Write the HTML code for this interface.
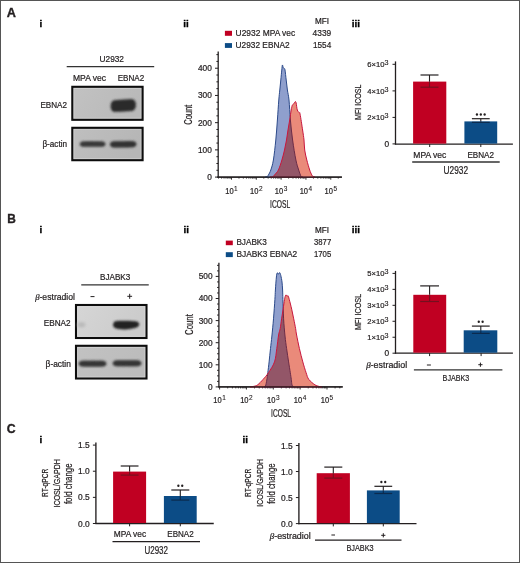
<!DOCTYPE html>
<html><head><meta charset="utf-8"><style>
html,body{margin:0;padding:0;background:#fff;}
svg{display:block;font-family:"Liberation Sans",sans-serif;will-change:transform;}
</style></head><body>
<svg width="520" height="563" viewBox="0 0 520 563">
<defs><filter id="bl" x="-20%" y="-50%" width="140%" height="200%"><feGaussianBlur stdDeviation="0.8"/></filter>
<filter id="bl3" x="-30%" y="-80%" width="160%" height="260%"><feGaussianBlur stdDeviation="0.8"/></filter>
<filter id="bl2" x="-50%" y="-50%" width="200%" height="200%"><feGaussianBlur stdDeviation="1.5"/></filter></defs>
<rect width="520" height="563" fill="#fff"/>
<rect x="0.5" y="0.5" width="519" height="562" fill="none" stroke="#555" stroke-width="1"/>
<text x="6.7" y="16.9" font-size="12.7" font-weight="bold" fill="#231f20" stroke="#231f20" stroke-width="0.35">A</text>
<text x="7.2" y="223.4" font-size="11.9" font-weight="bold" fill="#231f20" stroke="#231f20" stroke-width="0.35">B</text>
<text x="6.7" y="433.2" font-size="12.3" font-weight="bold" fill="#231f20" stroke="#231f20" stroke-width="0.35">C</text>
<text x="39.60" y="26.9" font-size="9.9" font-weight="bold" fill="#000" stroke="#000" stroke-width="0.3">i</text>
<text x="183.20" y="26.9" font-size="9.9" font-weight="bold" fill="#000" stroke="#000" stroke-width="0.3">ii</text>
<text x="351.80" y="26.8" font-size="9.9" font-weight="bold" fill="#000" stroke="#000" stroke-width="0.3">iii</text>
<text x="39.60" y="233.4" font-size="9.9" font-weight="bold" fill="#000" stroke="#000" stroke-width="0.3">i</text>
<text x="183.40" y="233.2" font-size="9.9" font-weight="bold" fill="#000" stroke="#000" stroke-width="0.3">ii</text>
<text x="351.80" y="233.0" font-size="9.9" font-weight="bold" fill="#000" stroke="#000" stroke-width="0.3">iii</text>
<text x="39.60" y="442.8" font-size="9.9" font-weight="bold" fill="#000" stroke="#000" stroke-width="0.3">i</text>
<text x="242.50" y="443.1" font-size="9.9" font-weight="bold" fill="#000" stroke="#000" stroke-width="0.3">ii</text>
<text x="99.50" y="62.00" font-size="9.16" textLength="24.50" lengthAdjust="spacingAndGlyphs" fill="#231f20" stroke="#231f20" stroke-width="0.22">U2932</text>
<line x1="66.70" y1="66.60" x2="154.20" y2="66.60" stroke="#333" stroke-width="1.3"/>
<text x="73.00" y="80.60" font-size="8.72" textLength="33.00" lengthAdjust="spacingAndGlyphs" fill="#231f20" stroke="#231f20" stroke-width="0.22">MPA vec</text>
<text x="117.70" y="80.60" font-size="8.72" textLength="26.50" lengthAdjust="spacingAndGlyphs" fill="#231f20" stroke="#231f20" stroke-width="0.22">EBNA2</text>
<linearGradient id="g1" x1="0" y1="0" x2="1" y2="0.3"><stop offset="0" stop-color="#c2c2c2"/><stop offset="1" stop-color="#b9b9b9"/></linearGradient>
<rect x="72.30" y="86.80" width="70.30" height="33.00" fill="url(#g1)" stroke="#0d0d0d" stroke-width="2.1"/>
<rect x="73.90" y="88.40" width="67.10" height="29.80" fill="none" stroke="#fff" stroke-opacity="0.25" stroke-width="1"/>
<path d="M110.90,106.25 L111.52,102.94 L112.14,101.92 L112.75,101.33 L113.37,100.96 L113.99,100.72 L114.61,100.56 L115.22,100.45 L115.84,100.37 L116.46,100.31 L117.08,100.26 L117.69,100.22 L118.31,100.18 L118.93,100.15 L119.55,100.11 L120.16,100.08 L120.78,100.04 L121.40,100.01 L122.02,99.97 L122.63,99.94 L123.25,99.90 L123.87,99.87 L124.48,99.83 L125.10,99.80 L125.72,99.76 L126.34,99.73 L126.95,99.69 L127.57,99.66 L128.19,99.62 L128.81,99.59 L129.43,99.56 L130.04,99.54 L130.66,99.53 L131.28,99.54 L131.89,99.58 L132.51,99.67 L133.13,99.84 L133.75,100.14 L134.37,100.66 L134.98,101.61 L135.60,104.85 L135.60,104.85 L134.98,108.16 L134.37,109.18 L133.75,109.77 L133.13,110.14 L132.51,110.38 L131.89,110.54 L131.28,110.65 L130.66,110.73 L130.04,110.79 L129.43,110.84 L128.81,110.88 L128.19,110.92 L127.57,110.95 L126.95,110.99 L126.34,111.02 L125.72,111.06 L125.10,111.09 L124.48,111.13 L123.87,111.16 L123.25,111.20 L122.63,111.23 L122.02,111.27 L121.40,111.30 L120.78,111.34 L120.16,111.37 L119.55,111.41 L118.93,111.44 L118.31,111.48 L117.69,111.51 L117.08,111.54 L116.46,111.56 L115.84,111.57 L115.22,111.56 L114.61,111.52 L113.99,111.43 L113.37,111.26 L112.75,110.96 L112.14,110.44 L111.52,109.49 L110.90,106.25 Z" fill="#2a2a2a" filter="url(#bl)" stroke="#2a2a2a" stroke-width="0.8" stroke-linejoin="round"/>
<linearGradient id="g2" x1="0" y1="0" x2="1" y2="0.3"><stop offset="0" stop-color="#bfbfbf"/><stop offset="1" stop-color="#b6b6b6"/></linearGradient>
<rect x="72.30" y="127.80" width="70.30" height="32.40" fill="url(#g2)" stroke="#0d0d0d" stroke-width="2.1"/>
<rect x="73.90" y="129.40" width="67.10" height="29.20" fill="none" stroke="#fff" stroke-opacity="0.25" stroke-width="1"/>
<path d="M80.00,144.10 L80.63,142.65 L81.26,142.21 L81.89,141.97 L82.52,141.82 L83.15,141.73 L83.78,141.67 L84.41,141.64 L85.04,141.62 L85.67,141.61 L86.30,141.60 L86.93,141.60 L87.56,141.60 L88.19,141.60 L88.82,141.60 L89.45,141.60 L90.08,141.60 L90.71,141.60 L91.34,141.60 L91.97,141.60 L92.60,141.60 L93.23,141.60 L93.86,141.60 L94.49,141.60 L95.12,141.60 L95.75,141.60 L96.38,141.60 L97.01,141.60 L97.64,141.60 L98.27,141.60 L98.90,141.60 L99.53,141.61 L100.16,141.62 L100.79,141.64 L101.42,141.67 L102.05,141.73 L102.68,141.82 L103.31,141.97 L103.94,142.21 L104.57,142.65 L105.20,144.10 L105.20,144.10 L104.57,145.55 L103.94,145.99 L103.31,146.23 L102.68,146.38 L102.05,146.47 L101.42,146.53 L100.79,146.56 L100.16,146.58 L99.53,146.59 L98.90,146.60 L98.27,146.60 L97.64,146.60 L97.01,146.60 L96.38,146.60 L95.75,146.60 L95.12,146.60 L94.49,146.60 L93.86,146.60 L93.23,146.60 L92.60,146.60 L91.97,146.60 L91.34,146.60 L90.71,146.60 L90.08,146.60 L89.45,146.60 L88.82,146.60 L88.19,146.60 L87.56,146.60 L86.93,146.60 L86.30,146.60 L85.67,146.59 L85.04,146.58 L84.41,146.56 L83.78,146.53 L83.15,146.47 L82.52,146.38 L81.89,146.23 L81.26,145.99 L80.63,145.55 L80.00,144.10 Z" fill="#383838" filter="url(#bl)" stroke="#383838" stroke-width="0.8" stroke-linejoin="round"/>
<path d="M110.20,144.45 L110.85,142.76 L111.50,142.25 L112.15,141.95 L112.80,141.77 L113.45,141.66 L114.10,141.59 L114.75,141.54 L115.40,141.51 L116.05,141.49 L116.70,141.48 L117.35,141.47 L118.00,141.46 L118.65,141.45 L119.30,141.45 L119.95,141.44 L120.60,141.43 L121.25,141.42 L121.90,141.42 L122.55,141.41 L123.20,141.40 L123.85,141.39 L124.50,141.39 L125.15,141.38 L125.80,141.37 L126.45,141.36 L127.10,141.36 L127.75,141.35 L128.40,141.34 L129.05,141.33 L129.70,141.33 L130.35,141.33 L131.00,141.33 L131.65,141.35 L132.30,141.38 L132.95,141.44 L133.60,141.53 L134.25,141.70 L134.90,141.98 L135.55,142.48 L136.20,144.15 L136.20,144.15 L135.55,145.84 L134.90,146.35 L134.25,146.65 L133.60,146.83 L132.95,146.94 L132.30,147.01 L131.65,147.06 L131.00,147.09 L130.35,147.11 L129.70,147.12 L129.05,147.13 L128.40,147.14 L127.75,147.15 L127.10,147.15 L126.45,147.16 L125.80,147.17 L125.15,147.18 L124.50,147.18 L123.85,147.19 L123.20,147.20 L122.55,147.21 L121.90,147.21 L121.25,147.22 L120.60,147.23 L119.95,147.24 L119.30,147.24 L118.65,147.25 L118.00,147.26 L117.35,147.27 L116.70,147.27 L116.05,147.27 L115.40,147.27 L114.75,147.25 L114.10,147.22 L113.45,147.16 L112.80,147.07 L112.15,146.90 L111.50,146.62 L110.85,146.12 L110.20,144.45 Z" fill="#333333" filter="url(#bl)" stroke="#333333" stroke-width="0.8" stroke-linejoin="round"/>
<text x="40.40" y="108.00" font-size="9.59" textLength="26.60" lengthAdjust="spacingAndGlyphs" fill="#231f20" stroke="#231f20" stroke-width="0.22">EBNA2</text>
<text x="42.40" y="146.90" font-size="8.43" textLength="24.60" lengthAdjust="spacingAndGlyphs" fill="#231f20" stroke="#231f20" stroke-width="0.22">β-actin</text>
<text x="100.00" y="279.80" font-size="9.16" textLength="30.30" lengthAdjust="spacingAndGlyphs" fill="#231f20" stroke="#231f20" stroke-width="0.22">BJABK3</text>
<line x1="81.25" y1="284.80" x2="148.75" y2="284.80" stroke="#333" stroke-width="1.3"/>
<text x="35.2" y="299.8" font-size="8.8" textLength="39.8" lengthAdjust="spacingAndGlyphs" fill="#231f20" stroke="#231f20" stroke-width="0.22"><tspan font-family="Liberation Serif" font-style="italic">β</tspan>-estradiol</text>
<line x1="90.50" y1="296.60" x2="94.50" y2="296.60" stroke="#231f20" stroke-width="1.0"/>
<line x1="127.30" y1="296.30" x2="132.10" y2="296.30" stroke="#231f20" stroke-width="1.0"/>
<line x1="129.70" y1="293.80" x2="129.70" y2="298.80" stroke="#231f20" stroke-width="1.0"/>
<linearGradient id="g3" x1="0" y1="0" x2="1" y2="0.3"><stop offset="0" stop-color="#d6d6d6"/><stop offset="1" stop-color="#cbcbcb"/></linearGradient>
<rect x="76.00" y="305.00" width="70.50" height="33.00" fill="url(#g3)" stroke="#0d0d0d" stroke-width="2.1"/>
<rect x="77.60" y="306.60" width="67.30" height="29.80" fill="none" stroke="#fff" stroke-opacity="0.25" stroke-width="1"/>
<path d="M113.10,324.50 C113.28,324.05 113.55,322.40 114.20,321.80 C114.85,321.20 115.20,321.08 117.00,320.90 C118.80,320.72 122.33,320.68 125.00,320.70 C127.67,320.72 130.92,320.82 133.00,321.00 C135.08,321.18 136.47,321.33 137.50,321.80 C138.53,322.27 139.05,323.07 139.20,323.80 C139.35,324.53 139.02,325.53 138.40,326.20 C137.78,326.87 137.23,327.30 135.50,327.80 C133.77,328.30 130.58,328.95 128.00,329.20 C125.42,329.45 122.08,329.45 120.00,329.30 C117.92,329.15 116.60,328.77 115.50,328.30 C114.40,327.83 113.80,327.13 113.40,326.50 C113.00,325.87 113.15,324.83 113.10,324.50 Z" fill="#222" filter="url(#bl3)"/>
<ellipse cx="81.5" cy="324.7" rx="4" ry="2.5" fill="#b8b8b8" filter="url(#bl2)"/>
<linearGradient id="g4" x1="0" y1="0" x2="1" y2="0.3"><stop offset="0" stop-color="#c2c2c2"/><stop offset="1" stop-color="#bcbcbc"/></linearGradient>
<rect x="76.00" y="345.80" width="70.50" height="32.70" fill="url(#g4)" stroke="#0d0d0d" stroke-width="2.1"/>
<rect x="77.60" y="347.40" width="67.30" height="29.50" fill="none" stroke="#fff" stroke-opacity="0.25" stroke-width="1"/>
<path d="M78.90,363.65 L79.58,362.05 L80.27,361.57 L80.95,361.30 L81.63,361.14 L82.31,361.04 L83.00,360.98 L83.68,360.94 L84.36,360.92 L85.04,360.91 L85.73,360.91 L86.41,360.90 L87.09,360.90 L87.77,360.90 L88.45,360.90 L89.14,360.90 L89.82,360.90 L90.50,360.90 L91.19,360.90 L91.87,360.90 L92.55,360.90 L93.23,360.90 L93.92,360.90 L94.60,360.90 L95.28,360.90 L95.96,360.90 L96.65,360.90 L97.33,360.90 L98.01,360.90 L98.69,360.90 L99.38,360.91 L100.06,360.91 L100.74,360.92 L101.42,360.94 L102.11,360.98 L102.79,361.04 L103.47,361.14 L104.15,361.30 L104.84,361.57 L105.52,362.05 L106.20,363.65 L106.20,363.65 L105.52,365.25 L104.84,365.73 L104.15,366.00 L103.47,366.16 L102.79,366.26 L102.11,366.32 L101.42,366.36 L100.74,366.38 L100.06,366.39 L99.38,366.39 L98.69,366.40 L98.01,366.40 L97.33,366.40 L96.65,366.40 L95.96,366.40 L95.28,366.40 L94.60,366.40 L93.92,366.40 L93.23,366.40 L92.55,366.40 L91.87,366.40 L91.19,366.40 L90.50,366.40 L89.82,366.40 L89.14,366.40 L88.45,366.40 L87.77,366.40 L87.09,366.40 L86.41,366.40 L85.73,366.39 L85.04,366.39 L84.36,366.38 L83.68,366.36 L83.00,366.32 L82.31,366.26 L81.63,366.16 L80.95,366.00 L80.27,365.73 L79.58,365.25 L78.90,363.65 Z" fill="#363636" filter="url(#bl)" stroke="#363636" stroke-width="0.8" stroke-linejoin="round"/>
<path d="M112.90,363.30 L113.61,361.68 L114.31,361.19 L115.02,360.91 L115.73,360.75 L116.44,360.64 L117.15,360.58 L117.85,360.54 L118.56,360.52 L119.27,360.51 L119.97,360.51 L120.68,360.50 L121.39,360.50 L122.10,360.50 L122.81,360.50 L123.51,360.50 L124.22,360.50 L124.93,360.50 L125.63,360.50 L126.34,360.50 L127.05,360.50 L127.76,360.50 L128.47,360.50 L129.17,360.50 L129.88,360.50 L130.59,360.50 L131.29,360.50 L132.00,360.50 L132.71,360.50 L133.42,360.50 L134.12,360.51 L134.83,360.51 L135.54,360.52 L136.25,360.54 L136.95,360.58 L137.66,360.64 L138.37,360.75 L139.08,360.91 L139.78,361.19 L140.49,361.68 L141.20,363.30 L141.20,363.30 L140.49,364.92 L139.78,365.41 L139.08,365.69 L138.37,365.85 L137.66,365.96 L136.95,366.02 L136.25,366.06 L135.54,366.08 L134.83,366.09 L134.12,366.09 L133.42,366.10 L132.71,366.10 L132.00,366.10 L131.29,366.10 L130.59,366.10 L129.88,366.10 L129.17,366.10 L128.47,366.10 L127.76,366.10 L127.05,366.10 L126.34,366.10 L125.63,366.10 L124.93,366.10 L124.22,366.10 L123.51,366.10 L122.81,366.10 L122.10,366.10 L121.39,366.10 L120.68,366.10 L119.97,366.09 L119.27,366.09 L118.56,366.08 L117.85,366.06 L117.15,366.02 L116.44,365.96 L115.73,365.85 L115.02,365.69 L114.31,365.41 L113.61,364.92 L112.90,363.30 Z" fill="#363636" filter="url(#bl)" stroke="#363636" stroke-width="0.8" stroke-linejoin="round"/>
<text x="43.70" y="326.10" font-size="9.16" textLength="26.90" lengthAdjust="spacingAndGlyphs" fill="#231f20" stroke="#231f20" stroke-width="0.22">EBNA2</text>
<text x="45.60" y="366.90" font-size="8.43" textLength="25.30" lengthAdjust="spacingAndGlyphs" fill="#231f20" stroke="#231f20" stroke-width="0.22">β-actin</text>
<line x1="218.20" y1="51.40" x2="218.20" y2="177.70" stroke="#231f20" stroke-width="1.3"/>
<line x1="215.00" y1="177.10" x2="218.20" y2="177.10" stroke="#231f20" stroke-width="1.0"/>
<text x="211.80" y="180.00" font-size="8.30" text-anchor="end" fill="#231f20" stroke="#231f20" stroke-width="0.22">0</text>
<line x1="216.40" y1="170.29" x2="218.20" y2="170.29" stroke="#231f20" stroke-width="1.0"/>
<line x1="216.40" y1="163.49" x2="218.20" y2="163.49" stroke="#231f20" stroke-width="1.0"/>
<line x1="216.40" y1="156.69" x2="218.20" y2="156.69" stroke="#231f20" stroke-width="1.0"/>
<line x1="215.00" y1="149.88" x2="218.20" y2="149.88" stroke="#231f20" stroke-width="1.0"/>
<text x="211.80" y="152.78" font-size="8.30" text-anchor="end" fill="#231f20" stroke="#231f20" stroke-width="0.22">100</text>
<line x1="216.40" y1="143.07" x2="218.20" y2="143.07" stroke="#231f20" stroke-width="1.0"/>
<line x1="216.40" y1="136.27" x2="218.20" y2="136.27" stroke="#231f20" stroke-width="1.0"/>
<line x1="216.40" y1="129.47" x2="218.20" y2="129.47" stroke="#231f20" stroke-width="1.0"/>
<line x1="215.00" y1="122.66" x2="218.20" y2="122.66" stroke="#231f20" stroke-width="1.0"/>
<text x="211.80" y="125.56" font-size="8.30" text-anchor="end" fill="#231f20" stroke="#231f20" stroke-width="0.22">200</text>
<line x1="216.40" y1="115.85" x2="218.20" y2="115.85" stroke="#231f20" stroke-width="1.0"/>
<line x1="216.40" y1="109.05" x2="218.20" y2="109.05" stroke="#231f20" stroke-width="1.0"/>
<line x1="216.40" y1="102.24" x2="218.20" y2="102.24" stroke="#231f20" stroke-width="1.0"/>
<line x1="215.00" y1="95.44" x2="218.20" y2="95.44" stroke="#231f20" stroke-width="1.0"/>
<text x="211.80" y="98.34" font-size="8.30" text-anchor="end" fill="#231f20" stroke="#231f20" stroke-width="0.22">300</text>
<line x1="216.40" y1="88.63" x2="218.20" y2="88.63" stroke="#231f20" stroke-width="1.0"/>
<line x1="216.40" y1="81.83" x2="218.20" y2="81.83" stroke="#231f20" stroke-width="1.0"/>
<line x1="216.40" y1="75.02" x2="218.20" y2="75.02" stroke="#231f20" stroke-width="1.0"/>
<line x1="215.00" y1="68.22" x2="218.20" y2="68.22" stroke="#231f20" stroke-width="1.0"/>
<text x="211.80" y="71.12" font-size="8.30" text-anchor="end" fill="#231f20" stroke="#231f20" stroke-width="0.22">400</text>
<line x1="216.40" y1="61.41" x2="218.20" y2="61.41" stroke="#231f20" stroke-width="1.0"/>
<line x1="216.40" y1="54.61" x2="218.20" y2="54.61" stroke="#231f20" stroke-width="1.0"/>
<line x1="217.40" y1="177.10" x2="341.90" y2="177.10" stroke="#231f20" stroke-width="1.3"/>
<line x1="218.52" y1="177.10" x2="218.52" y2="178.60" stroke="#231f20" stroke-width="0.9"/>
<line x1="221.62" y1="177.10" x2="221.62" y2="178.60" stroke="#231f20" stroke-width="0.9"/>
<line x1="224.03" y1="177.10" x2="224.03" y2="178.60" stroke="#231f20" stroke-width="0.9"/>
<line x1="225.99" y1="177.10" x2="225.99" y2="178.60" stroke="#231f20" stroke-width="0.9"/>
<line x1="227.66" y1="177.10" x2="227.66" y2="178.60" stroke="#231f20" stroke-width="0.9"/>
<line x1="229.09" y1="177.10" x2="229.09" y2="178.60" stroke="#231f20" stroke-width="0.9"/>
<line x1="230.36" y1="177.10" x2="230.36" y2="178.60" stroke="#231f20" stroke-width="0.9"/>
<line x1="231.50" y1="177.10" x2="231.50" y2="179.70" stroke="#231f20" stroke-width="0.9"/>
<line x1="238.97" y1="177.10" x2="238.97" y2="178.60" stroke="#231f20" stroke-width="0.9"/>
<line x1="243.34" y1="177.10" x2="243.34" y2="178.60" stroke="#231f20" stroke-width="0.9"/>
<line x1="246.44" y1="177.10" x2="246.44" y2="178.60" stroke="#231f20" stroke-width="0.9"/>
<line x1="248.85" y1="177.10" x2="248.85" y2="178.60" stroke="#231f20" stroke-width="0.9"/>
<line x1="250.81" y1="177.10" x2="250.81" y2="178.60" stroke="#231f20" stroke-width="0.9"/>
<line x1="252.48" y1="177.10" x2="252.48" y2="178.60" stroke="#231f20" stroke-width="0.9"/>
<line x1="253.91" y1="177.10" x2="253.91" y2="178.60" stroke="#231f20" stroke-width="0.9"/>
<line x1="255.18" y1="177.10" x2="255.18" y2="178.60" stroke="#231f20" stroke-width="0.9"/>
<line x1="256.32" y1="177.10" x2="256.32" y2="179.70" stroke="#231f20" stroke-width="0.9"/>
<line x1="263.79" y1="177.10" x2="263.79" y2="178.60" stroke="#231f20" stroke-width="0.9"/>
<line x1="268.16" y1="177.10" x2="268.16" y2="178.60" stroke="#231f20" stroke-width="0.9"/>
<line x1="271.26" y1="177.10" x2="271.26" y2="178.60" stroke="#231f20" stroke-width="0.9"/>
<line x1="273.67" y1="177.10" x2="273.67" y2="178.60" stroke="#231f20" stroke-width="0.9"/>
<line x1="275.63" y1="177.10" x2="275.63" y2="178.60" stroke="#231f20" stroke-width="0.9"/>
<line x1="277.30" y1="177.10" x2="277.30" y2="178.60" stroke="#231f20" stroke-width="0.9"/>
<line x1="278.73" y1="177.10" x2="278.73" y2="178.60" stroke="#231f20" stroke-width="0.9"/>
<line x1="280.00" y1="177.10" x2="280.00" y2="178.60" stroke="#231f20" stroke-width="0.9"/>
<line x1="281.14" y1="177.10" x2="281.14" y2="179.70" stroke="#231f20" stroke-width="0.9"/>
<line x1="288.61" y1="177.10" x2="288.61" y2="178.60" stroke="#231f20" stroke-width="0.9"/>
<line x1="292.98" y1="177.10" x2="292.98" y2="178.60" stroke="#231f20" stroke-width="0.9"/>
<line x1="296.08" y1="177.10" x2="296.08" y2="178.60" stroke="#231f20" stroke-width="0.9"/>
<line x1="298.49" y1="177.10" x2="298.49" y2="178.60" stroke="#231f20" stroke-width="0.9"/>
<line x1="300.45" y1="177.10" x2="300.45" y2="178.60" stroke="#231f20" stroke-width="0.9"/>
<line x1="302.12" y1="177.10" x2="302.12" y2="178.60" stroke="#231f20" stroke-width="0.9"/>
<line x1="303.55" y1="177.10" x2="303.55" y2="178.60" stroke="#231f20" stroke-width="0.9"/>
<line x1="304.82" y1="177.10" x2="304.82" y2="178.60" stroke="#231f20" stroke-width="0.9"/>
<line x1="305.96" y1="177.10" x2="305.96" y2="179.70" stroke="#231f20" stroke-width="0.9"/>
<line x1="313.43" y1="177.10" x2="313.43" y2="178.60" stroke="#231f20" stroke-width="0.9"/>
<line x1="317.80" y1="177.10" x2="317.80" y2="178.60" stroke="#231f20" stroke-width="0.9"/>
<line x1="320.90" y1="177.10" x2="320.90" y2="178.60" stroke="#231f20" stroke-width="0.9"/>
<line x1="323.31" y1="177.10" x2="323.31" y2="178.60" stroke="#231f20" stroke-width="0.9"/>
<line x1="325.27" y1="177.10" x2="325.27" y2="178.60" stroke="#231f20" stroke-width="0.9"/>
<line x1="326.94" y1="177.10" x2="326.94" y2="178.60" stroke="#231f20" stroke-width="0.9"/>
<line x1="328.37" y1="177.10" x2="328.37" y2="178.60" stroke="#231f20" stroke-width="0.9"/>
<line x1="329.64" y1="177.10" x2="329.64" y2="178.60" stroke="#231f20" stroke-width="0.9"/>
<line x1="330.78" y1="177.10" x2="330.78" y2="179.70" stroke="#231f20" stroke-width="0.9"/>
<line x1="338.25" y1="177.10" x2="338.25" y2="178.60" stroke="#231f20" stroke-width="0.9"/>
<text x="225.20" y="194.30" font-size="8.5" textLength="8.4" lengthAdjust="spacingAndGlyphs" fill="#231f20" stroke="#231f20" stroke-width="0.22">10</text>
<text x="234.10" y="190.60" font-size="6.8" textLength="3.6" lengthAdjust="spacingAndGlyphs" fill="#231f20" stroke="#231f20" stroke-width="0.12">1</text>
<text x="250.02" y="194.30" font-size="8.5" textLength="8.4" lengthAdjust="spacingAndGlyphs" fill="#231f20" stroke="#231f20" stroke-width="0.22">10</text>
<text x="258.92" y="190.60" font-size="6.8" textLength="3.6" lengthAdjust="spacingAndGlyphs" fill="#231f20" stroke="#231f20" stroke-width="0.12">2</text>
<text x="274.84" y="194.30" font-size="8.5" textLength="8.4" lengthAdjust="spacingAndGlyphs" fill="#231f20" stroke="#231f20" stroke-width="0.22">10</text>
<text x="283.74" y="190.60" font-size="6.8" textLength="3.6" lengthAdjust="spacingAndGlyphs" fill="#231f20" stroke="#231f20" stroke-width="0.12">3</text>
<text x="299.66" y="194.30" font-size="8.5" textLength="8.4" lengthAdjust="spacingAndGlyphs" fill="#231f20" stroke="#231f20" stroke-width="0.22">10</text>
<text x="308.56" y="190.60" font-size="6.8" textLength="3.6" lengthAdjust="spacingAndGlyphs" fill="#231f20" stroke="#231f20" stroke-width="0.12">4</text>
<text x="324.48" y="194.30" font-size="8.5" textLength="8.4" lengthAdjust="spacingAndGlyphs" fill="#231f20" stroke="#231f20" stroke-width="0.22">10</text>
<text x="333.38" y="190.60" font-size="6.8" textLength="3.6" lengthAdjust="spacingAndGlyphs" fill="#231f20" stroke="#231f20" stroke-width="0.12">5</text>
<text transform="translate(191.80,124.80) rotate(-90)" x="0" y="0" font-size="10.03" textLength="20.10" lengthAdjust="spacingAndGlyphs" fill="#231f20" stroke="#231f20" stroke-width="0.22">Count</text>
<text x="270.10" y="208.40" font-size="10.17" textLength="20.10" lengthAdjust="spacingAndGlyphs" fill="#231f20" stroke="#231f20" stroke-width="0.22">ICOSL</text>
<line x1="218.90" y1="262.80" x2="218.90" y2="387.50" stroke="#231f20" stroke-width="1.3"/>
<line x1="215.70" y1="386.90" x2="218.90" y2="386.90" stroke="#231f20" stroke-width="1.0"/>
<text x="212.50" y="389.80" font-size="8.30" text-anchor="end" fill="#231f20" stroke="#231f20" stroke-width="0.22">0</text>
<line x1="217.10" y1="381.38" x2="218.90" y2="381.38" stroke="#231f20" stroke-width="1.0"/>
<line x1="217.10" y1="375.85" x2="218.90" y2="375.85" stroke="#231f20" stroke-width="1.0"/>
<line x1="217.10" y1="370.32" x2="218.90" y2="370.32" stroke="#231f20" stroke-width="1.0"/>
<line x1="215.70" y1="364.80" x2="218.90" y2="364.80" stroke="#231f20" stroke-width="1.0"/>
<text x="212.50" y="367.70" font-size="8.30" text-anchor="end" fill="#231f20" stroke="#231f20" stroke-width="0.22">100</text>
<line x1="217.10" y1="359.27" x2="218.90" y2="359.27" stroke="#231f20" stroke-width="1.0"/>
<line x1="217.10" y1="353.75" x2="218.90" y2="353.75" stroke="#231f20" stroke-width="1.0"/>
<line x1="217.10" y1="348.22" x2="218.90" y2="348.22" stroke="#231f20" stroke-width="1.0"/>
<line x1="215.70" y1="342.70" x2="218.90" y2="342.70" stroke="#231f20" stroke-width="1.0"/>
<text x="212.50" y="345.60" font-size="8.30" text-anchor="end" fill="#231f20" stroke="#231f20" stroke-width="0.22">200</text>
<line x1="217.10" y1="337.17" x2="218.90" y2="337.17" stroke="#231f20" stroke-width="1.0"/>
<line x1="217.10" y1="331.65" x2="218.90" y2="331.65" stroke="#231f20" stroke-width="1.0"/>
<line x1="217.10" y1="326.12" x2="218.90" y2="326.12" stroke="#231f20" stroke-width="1.0"/>
<line x1="215.70" y1="320.60" x2="218.90" y2="320.60" stroke="#231f20" stroke-width="1.0"/>
<text x="212.50" y="323.50" font-size="8.30" text-anchor="end" fill="#231f20" stroke="#231f20" stroke-width="0.22">300</text>
<line x1="217.10" y1="315.07" x2="218.90" y2="315.07" stroke="#231f20" stroke-width="1.0"/>
<line x1="217.10" y1="309.55" x2="218.90" y2="309.55" stroke="#231f20" stroke-width="1.0"/>
<line x1="217.10" y1="304.02" x2="218.90" y2="304.02" stroke="#231f20" stroke-width="1.0"/>
<line x1="215.70" y1="298.50" x2="218.90" y2="298.50" stroke="#231f20" stroke-width="1.0"/>
<text x="212.50" y="301.40" font-size="8.30" text-anchor="end" fill="#231f20" stroke="#231f20" stroke-width="0.22">400</text>
<line x1="217.10" y1="292.97" x2="218.90" y2="292.97" stroke="#231f20" stroke-width="1.0"/>
<line x1="217.10" y1="287.45" x2="218.90" y2="287.45" stroke="#231f20" stroke-width="1.0"/>
<line x1="217.10" y1="281.92" x2="218.90" y2="281.92" stroke="#231f20" stroke-width="1.0"/>
<line x1="215.70" y1="276.40" x2="218.90" y2="276.40" stroke="#231f20" stroke-width="1.0"/>
<text x="212.50" y="279.30" font-size="8.30" text-anchor="end" fill="#231f20" stroke="#231f20" stroke-width="0.22">500</text>
<line x1="217.10" y1="270.88" x2="218.90" y2="270.88" stroke="#231f20" stroke-width="1.0"/>
<line x1="217.10" y1="265.35" x2="218.90" y2="265.35" stroke="#231f20" stroke-width="1.0"/>
<line x1="218.60" y1="386.90" x2="342.70" y2="386.90" stroke="#231f20" stroke-width="1.3"/>
<line x1="219.60" y1="386.90" x2="219.60" y2="389.50" stroke="#231f20" stroke-width="0.9"/>
<line x1="227.68" y1="386.90" x2="227.68" y2="388.40" stroke="#231f20" stroke-width="0.9"/>
<line x1="232.41" y1="386.90" x2="232.41" y2="388.40" stroke="#231f20" stroke-width="0.9"/>
<line x1="235.77" y1="386.90" x2="235.77" y2="388.40" stroke="#231f20" stroke-width="0.9"/>
<line x1="238.37" y1="386.90" x2="238.37" y2="388.40" stroke="#231f20" stroke-width="0.9"/>
<line x1="240.49" y1="386.90" x2="240.49" y2="388.40" stroke="#231f20" stroke-width="0.9"/>
<line x1="242.29" y1="386.90" x2="242.29" y2="388.40" stroke="#231f20" stroke-width="0.9"/>
<line x1="243.85" y1="386.90" x2="243.85" y2="388.40" stroke="#231f20" stroke-width="0.9"/>
<line x1="245.22" y1="386.90" x2="245.22" y2="388.40" stroke="#231f20" stroke-width="0.9"/>
<line x1="246.45" y1="386.90" x2="246.45" y2="389.50" stroke="#231f20" stroke-width="0.9"/>
<line x1="254.53" y1="386.90" x2="254.53" y2="388.40" stroke="#231f20" stroke-width="0.9"/>
<line x1="259.26" y1="386.90" x2="259.26" y2="388.40" stroke="#231f20" stroke-width="0.9"/>
<line x1="262.62" y1="386.90" x2="262.62" y2="388.40" stroke="#231f20" stroke-width="0.9"/>
<line x1="265.22" y1="386.90" x2="265.22" y2="388.40" stroke="#231f20" stroke-width="0.9"/>
<line x1="267.34" y1="386.90" x2="267.34" y2="388.40" stroke="#231f20" stroke-width="0.9"/>
<line x1="269.14" y1="386.90" x2="269.14" y2="388.40" stroke="#231f20" stroke-width="0.9"/>
<line x1="270.70" y1="386.90" x2="270.70" y2="388.40" stroke="#231f20" stroke-width="0.9"/>
<line x1="272.07" y1="386.90" x2="272.07" y2="388.40" stroke="#231f20" stroke-width="0.9"/>
<line x1="273.30" y1="386.90" x2="273.30" y2="389.50" stroke="#231f20" stroke-width="0.9"/>
<line x1="281.38" y1="386.90" x2="281.38" y2="388.40" stroke="#231f20" stroke-width="0.9"/>
<line x1="286.11" y1="386.90" x2="286.11" y2="388.40" stroke="#231f20" stroke-width="0.9"/>
<line x1="289.47" y1="386.90" x2="289.47" y2="388.40" stroke="#231f20" stroke-width="0.9"/>
<line x1="292.07" y1="386.90" x2="292.07" y2="388.40" stroke="#231f20" stroke-width="0.9"/>
<line x1="294.19" y1="386.90" x2="294.19" y2="388.40" stroke="#231f20" stroke-width="0.9"/>
<line x1="295.99" y1="386.90" x2="295.99" y2="388.40" stroke="#231f20" stroke-width="0.9"/>
<line x1="297.55" y1="386.90" x2="297.55" y2="388.40" stroke="#231f20" stroke-width="0.9"/>
<line x1="298.92" y1="386.90" x2="298.92" y2="388.40" stroke="#231f20" stroke-width="0.9"/>
<line x1="300.15" y1="386.90" x2="300.15" y2="389.50" stroke="#231f20" stroke-width="0.9"/>
<line x1="308.23" y1="386.90" x2="308.23" y2="388.40" stroke="#231f20" stroke-width="0.9"/>
<line x1="312.96" y1="386.90" x2="312.96" y2="388.40" stroke="#231f20" stroke-width="0.9"/>
<line x1="316.32" y1="386.90" x2="316.32" y2="388.40" stroke="#231f20" stroke-width="0.9"/>
<line x1="318.92" y1="386.90" x2="318.92" y2="388.40" stroke="#231f20" stroke-width="0.9"/>
<line x1="321.04" y1="386.90" x2="321.04" y2="388.40" stroke="#231f20" stroke-width="0.9"/>
<line x1="322.84" y1="386.90" x2="322.84" y2="388.40" stroke="#231f20" stroke-width="0.9"/>
<line x1="324.40" y1="386.90" x2="324.40" y2="388.40" stroke="#231f20" stroke-width="0.9"/>
<line x1="325.77" y1="386.90" x2="325.77" y2="388.40" stroke="#231f20" stroke-width="0.9"/>
<line x1="327.00" y1="386.90" x2="327.00" y2="389.50" stroke="#231f20" stroke-width="0.9"/>
<line x1="335.08" y1="386.90" x2="335.08" y2="388.40" stroke="#231f20" stroke-width="0.9"/>
<line x1="339.81" y1="386.90" x2="339.81" y2="388.40" stroke="#231f20" stroke-width="0.9"/>
<text x="213.30" y="403.20" font-size="8.5" textLength="8.4" lengthAdjust="spacingAndGlyphs" fill="#231f20" stroke="#231f20" stroke-width="0.22">10</text>
<text x="222.20" y="399.50" font-size="6.8" textLength="3.6" lengthAdjust="spacingAndGlyphs" fill="#231f20" stroke="#231f20" stroke-width="0.12">1</text>
<text x="240.15" y="403.20" font-size="8.5" textLength="8.4" lengthAdjust="spacingAndGlyphs" fill="#231f20" stroke="#231f20" stroke-width="0.22">10</text>
<text x="249.05" y="399.50" font-size="6.8" textLength="3.6" lengthAdjust="spacingAndGlyphs" fill="#231f20" stroke="#231f20" stroke-width="0.12">2</text>
<text x="267.00" y="403.20" font-size="8.5" textLength="8.4" lengthAdjust="spacingAndGlyphs" fill="#231f20" stroke="#231f20" stroke-width="0.22">10</text>
<text x="275.90" y="399.50" font-size="6.8" textLength="3.6" lengthAdjust="spacingAndGlyphs" fill="#231f20" stroke="#231f20" stroke-width="0.12">3</text>
<text x="293.85" y="403.20" font-size="8.5" textLength="8.4" lengthAdjust="spacingAndGlyphs" fill="#231f20" stroke="#231f20" stroke-width="0.22">10</text>
<text x="302.75" y="399.50" font-size="6.8" textLength="3.6" lengthAdjust="spacingAndGlyphs" fill="#231f20" stroke="#231f20" stroke-width="0.12">4</text>
<text x="320.70" y="403.20" font-size="8.5" textLength="8.4" lengthAdjust="spacingAndGlyphs" fill="#231f20" stroke="#231f20" stroke-width="0.22">10</text>
<text x="329.60" y="399.50" font-size="6.8" textLength="3.6" lengthAdjust="spacingAndGlyphs" fill="#231f20" stroke="#231f20" stroke-width="0.12">5</text>
<text transform="translate(192.80,335.00) rotate(-90)" x="0" y="0" font-size="10.03" textLength="20.80" lengthAdjust="spacingAndGlyphs" fill="#231f20" stroke="#231f20" stroke-width="0.22">Count</text>
<text x="271.10" y="417.30" font-size="10.17" textLength="19.90" lengthAdjust="spacingAndGlyphs" fill="#231f20" stroke="#231f20" stroke-width="0.22">ICOSL</text>
<text x="315.00" y="23.80" font-size="8.14" textLength="14.00" lengthAdjust="spacingAndGlyphs" fill="#231f20" stroke="#231f20" stroke-width="0.22">MFI</text>
<rect x="224.90" y="30.80" width="7.10" height="5.00" fill="#c00022" />
<text x="235.60" y="36.20" font-size="9.30" textLength="59.60" lengthAdjust="spacingAndGlyphs" fill="#231f20" stroke="#231f20" stroke-width="0.22">U2932 MPA vec</text>
<text x="312.60" y="36.20" font-size="9.30" textLength="18.60" lengthAdjust="spacingAndGlyphs" fill="#231f20" stroke="#231f20" stroke-width="0.22">4339</text>
<rect x="224.90" y="43.10" width="7.10" height="4.80" fill="#0c4c86" />
<text x="235.60" y="48.00" font-size="9.30" textLength="54.00" lengthAdjust="spacingAndGlyphs" fill="#231f20" stroke="#231f20" stroke-width="0.22">U2932 EBNA2</text>
<text x="313.00" y="48.00" font-size="9.30" textLength="18.20" lengthAdjust="spacingAndGlyphs" fill="#231f20" stroke="#231f20" stroke-width="0.22">1554</text>
<text x="315.00" y="233.00" font-size="8.14" textLength="14.00" lengthAdjust="spacingAndGlyphs" fill="#231f20" stroke="#231f20" stroke-width="0.22">MFI</text>
<rect x="225.80" y="240.60" width="7.00" height="4.60" fill="#c00022" />
<text x="236.40" y="245.40" font-size="9.30" textLength="30.50" lengthAdjust="spacingAndGlyphs" fill="#231f20" stroke="#231f20" stroke-width="0.22">BJABK3</text>
<text x="314.00" y="245.40" font-size="9.30" textLength="17.20" lengthAdjust="spacingAndGlyphs" fill="#231f20" stroke="#231f20" stroke-width="0.22">3877</text>
<rect x="225.80" y="252.20" width="7.00" height="4.90" fill="#0c4c86" />
<text x="236.40" y="257.30" font-size="9.30" textLength="60.80" lengthAdjust="spacingAndGlyphs" fill="#231f20" stroke="#231f20" stroke-width="0.22">BJABK3 EBNA2</text>
<text x="314.00" y="257.30" font-size="9.30" textLength="17.20" lengthAdjust="spacingAndGlyphs" fill="#231f20" stroke="#231f20" stroke-width="0.22">1705</text>
<clipPath id="cb1"><path d="M265.00,177.20 C265.33,177.13 266.43,177.17 267.00,176.80 C267.57,176.43 267.77,176.13 268.40,175.00 C269.03,173.87 269.97,172.50 270.80,170.00 C271.63,167.50 272.57,165.00 273.40,160.00 C274.23,155.00 275.13,146.67 275.80,140.00 C276.47,133.33 276.90,126.67 277.40,120.00 C277.90,113.33 278.40,105.00 278.80,100.00 C279.20,95.00 279.47,93.33 279.80,90.00 C280.13,86.67 280.47,83.33 280.80,80.00 C281.13,76.67 281.53,72.50 281.80,70.00 C282.07,67.50 282.15,65.37 282.40,65.00 C282.65,64.63 282.98,67.22 283.30,67.80 C283.62,68.38 284.02,68.13 284.30,68.50 C284.58,68.87 284.68,68.08 285.00,70.00 C285.32,71.92 285.80,76.67 286.20,80.00 C286.60,83.33 286.93,86.67 287.40,90.00 C287.87,93.33 288.50,95.00 289.00,100.00 C289.50,105.00 289.80,113.33 290.40,120.00 C291.00,126.67 291.68,133.33 292.60,140.00 C293.52,146.67 294.88,155.00 295.90,160.00 C296.92,165.00 297.83,167.25 298.70,170.00 C299.57,172.75 300.38,175.30 301.10,176.50 C301.82,177.70 302.68,177.08 303.00,177.20 Z"/></clipPath><clipPath id="cr1"><path d="M270.00,177.20 C270.45,177.13 271.95,177.17 272.70,176.80 C273.45,176.43 273.55,176.13 274.50,175.00 C275.45,173.87 277.17,172.50 278.40,170.00 C279.63,167.50 280.88,163.33 281.90,160.00 C282.92,156.67 283.73,153.33 284.50,150.00 C285.27,146.67 285.92,143.33 286.50,140.00 C287.08,136.67 287.47,133.33 288.00,130.00 C288.53,126.67 289.17,123.33 289.70,120.00 C290.23,116.67 290.78,112.42 291.20,110.00 C291.62,107.58 291.93,106.40 292.20,105.50 C292.47,104.60 292.53,104.88 292.80,104.60 C293.07,104.32 293.42,104.28 293.80,103.80 C294.18,103.32 294.72,101.87 295.10,101.70 C295.48,101.53 295.73,101.42 296.10,102.80 C296.47,104.18 296.77,108.33 297.30,110.00 C297.83,111.67 298.83,112.10 299.30,112.80 C299.77,113.50 299.55,111.33 300.10,114.20 C300.65,117.07 301.95,125.70 302.60,130.00 C303.25,134.30 303.65,136.67 304.00,140.00 C304.35,143.33 304.23,146.67 304.70,150.00 C305.17,153.33 305.97,156.67 306.80,160.00 C307.63,163.33 308.87,167.50 309.70,170.00 C310.53,172.50 311.22,173.90 311.80,175.00 C312.38,176.10 312.67,176.23 313.20,176.60 C313.73,176.97 314.70,177.10 315.00,177.20 Z"/></clipPath>
<path d="M265.00,177.20 C265.33,177.13 266.43,177.17 267.00,176.80 C267.57,176.43 267.77,176.13 268.40,175.00 C269.03,173.87 269.97,172.50 270.80,170.00 C271.63,167.50 272.57,165.00 273.40,160.00 C274.23,155.00 275.13,146.67 275.80,140.00 C276.47,133.33 276.90,126.67 277.40,120.00 C277.90,113.33 278.40,105.00 278.80,100.00 C279.20,95.00 279.47,93.33 279.80,90.00 C280.13,86.67 280.47,83.33 280.80,80.00 C281.13,76.67 281.53,72.50 281.80,70.00 C282.07,67.50 282.15,65.37 282.40,65.00 C282.65,64.63 282.98,67.22 283.30,67.80 C283.62,68.38 284.02,68.13 284.30,68.50 C284.58,68.87 284.68,68.08 285.00,70.00 C285.32,71.92 285.80,76.67 286.20,80.00 C286.60,83.33 286.93,86.67 287.40,90.00 C287.87,93.33 288.50,95.00 289.00,100.00 C289.50,105.00 289.80,113.33 290.40,120.00 C291.00,126.67 291.68,133.33 292.60,140.00 C293.52,146.67 294.88,155.00 295.90,160.00 C296.92,165.00 297.83,167.25 298.70,170.00 C299.57,172.75 300.38,175.30 301.10,176.50 C301.82,177.70 302.68,177.08 303.00,177.20 Z" fill="#8f9fcd"/>
<path d="M265.00,177.20 C265.33,177.13 266.43,177.17 267.00,176.80 C267.57,176.43 267.77,176.13 268.40,175.00 C269.03,173.87 269.97,172.50 270.80,170.00 C271.63,167.50 272.57,165.00 273.40,160.00 C274.23,155.00 275.13,146.67 275.80,140.00 C276.47,133.33 276.90,126.67 277.40,120.00 C277.90,113.33 278.40,105.00 278.80,100.00 C279.20,95.00 279.47,93.33 279.80,90.00 C280.13,86.67 280.47,83.33 280.80,80.00 C281.13,76.67 281.53,72.50 281.80,70.00 C282.07,67.50 282.15,65.37 282.40,65.00 C282.65,64.63 282.98,67.22 283.30,67.80 C283.62,68.38 284.02,68.13 284.30,68.50 C284.58,68.87 284.68,68.08 285.00,70.00 C285.32,71.92 285.80,76.67 286.20,80.00 C286.60,83.33 286.93,86.67 287.40,90.00 C287.87,93.33 288.50,95.00 289.00,100.00 C289.50,105.00 289.80,113.33 290.40,120.00 C291.00,126.67 291.68,133.33 292.60,140.00 C293.52,146.67 294.88,155.00 295.90,160.00 C296.92,165.00 297.83,167.25 298.70,170.00 C299.57,172.75 300.38,175.30 301.10,176.50 C301.82,177.70 302.68,177.08 303.00,177.20 Z" fill="none" stroke="#2c4a8a" stroke-width="1.0" stroke-linejoin="round"/>
<path d="M270.00,177.20 C270.45,177.13 271.95,177.17 272.70,176.80 C273.45,176.43 273.55,176.13 274.50,175.00 C275.45,173.87 277.17,172.50 278.40,170.00 C279.63,167.50 280.88,163.33 281.90,160.00 C282.92,156.67 283.73,153.33 284.50,150.00 C285.27,146.67 285.92,143.33 286.50,140.00 C287.08,136.67 287.47,133.33 288.00,130.00 C288.53,126.67 289.17,123.33 289.70,120.00 C290.23,116.67 290.78,112.42 291.20,110.00 C291.62,107.58 291.93,106.40 292.20,105.50 C292.47,104.60 292.53,104.88 292.80,104.60 C293.07,104.32 293.42,104.28 293.80,103.80 C294.18,103.32 294.72,101.87 295.10,101.70 C295.48,101.53 295.73,101.42 296.10,102.80 C296.47,104.18 296.77,108.33 297.30,110.00 C297.83,111.67 298.83,112.10 299.30,112.80 C299.77,113.50 299.55,111.33 300.10,114.20 C300.65,117.07 301.95,125.70 302.60,130.00 C303.25,134.30 303.65,136.67 304.00,140.00 C304.35,143.33 304.23,146.67 304.70,150.00 C305.17,153.33 305.97,156.67 306.80,160.00 C307.63,163.33 308.87,167.50 309.70,170.00 C310.53,172.50 311.22,173.90 311.80,175.00 C312.38,176.10 312.67,176.23 313.20,176.60 C313.73,176.97 314.70,177.10 315.00,177.20 Z" fill="#ea8a7a"/>
<path d="M270.00,177.20 C270.45,177.13 271.95,177.17 272.70,176.80 C273.45,176.43 273.55,176.13 274.50,175.00 C275.45,173.87 277.17,172.50 278.40,170.00 C279.63,167.50 280.88,163.33 281.90,160.00 C282.92,156.67 283.73,153.33 284.50,150.00 C285.27,146.67 285.92,143.33 286.50,140.00 C287.08,136.67 287.47,133.33 288.00,130.00 C288.53,126.67 289.17,123.33 289.70,120.00 C290.23,116.67 290.78,112.42 291.20,110.00 C291.62,107.58 291.93,106.40 292.20,105.50 C292.47,104.60 292.53,104.88 292.80,104.60 C293.07,104.32 293.42,104.28 293.80,103.80 C294.18,103.32 294.72,101.87 295.10,101.70 C295.48,101.53 295.73,101.42 296.10,102.80 C296.47,104.18 296.77,108.33 297.30,110.00 C297.83,111.67 298.83,112.10 299.30,112.80 C299.77,113.50 299.55,111.33 300.10,114.20 C300.65,117.07 301.95,125.70 302.60,130.00 C303.25,134.30 303.65,136.67 304.00,140.00 C304.35,143.33 304.23,146.67 304.70,150.00 C305.17,153.33 305.97,156.67 306.80,160.00 C307.63,163.33 308.87,167.50 309.70,170.00 C310.53,172.50 311.22,173.90 311.80,175.00 C312.38,176.10 312.67,176.23 313.20,176.60 C313.73,176.97 314.70,177.10 315.00,177.20 Z" fill="#935668" clip-path="url(#cb1)"/>
<path d="M265.00,177.20 C265.33,177.13 266.43,177.17 267.00,176.80 C267.57,176.43 267.77,176.13 268.40,175.00 C269.03,173.87 269.97,172.50 270.80,170.00 C271.63,167.50 272.57,165.00 273.40,160.00 C274.23,155.00 275.13,146.67 275.80,140.00 C276.47,133.33 276.90,126.67 277.40,120.00 C277.90,113.33 278.40,105.00 278.80,100.00 C279.20,95.00 279.47,93.33 279.80,90.00 C280.13,86.67 280.47,83.33 280.80,80.00 C281.13,76.67 281.53,72.50 281.80,70.00 C282.07,67.50 282.15,65.37 282.40,65.00 C282.65,64.63 282.98,67.22 283.30,67.80 C283.62,68.38 284.02,68.13 284.30,68.50 C284.58,68.87 284.68,68.08 285.00,70.00 C285.32,71.92 285.80,76.67 286.20,80.00 C286.60,83.33 286.93,86.67 287.40,90.00 C287.87,93.33 288.50,95.00 289.00,100.00 C289.50,105.00 289.80,113.33 290.40,120.00 C291.00,126.67 291.68,133.33 292.60,140.00 C293.52,146.67 294.88,155.00 295.90,160.00 C296.92,165.00 297.83,167.25 298.70,170.00 C299.57,172.75 300.38,175.30 301.10,176.50 C301.82,177.70 302.68,177.08 303.00,177.20 Z" fill="none" stroke="#6a2c48" stroke-width="1.0" stroke-linejoin="round" clip-path="url(#cr1)"/>
<path d="M270.00,177.20 C270.45,177.13 271.95,177.17 272.70,176.80 C273.45,176.43 273.55,176.13 274.50,175.00 C275.45,173.87 277.17,172.50 278.40,170.00 C279.63,167.50 280.88,163.33 281.90,160.00 C282.92,156.67 283.73,153.33 284.50,150.00 C285.27,146.67 285.92,143.33 286.50,140.00 C287.08,136.67 287.47,133.33 288.00,130.00 C288.53,126.67 289.17,123.33 289.70,120.00 C290.23,116.67 290.78,112.42 291.20,110.00 C291.62,107.58 291.93,106.40 292.20,105.50 C292.47,104.60 292.53,104.88 292.80,104.60 C293.07,104.32 293.42,104.28 293.80,103.80 C294.18,103.32 294.72,101.87 295.10,101.70 C295.48,101.53 295.73,101.42 296.10,102.80 C296.47,104.18 296.77,108.33 297.30,110.00 C297.83,111.67 298.83,112.10 299.30,112.80 C299.77,113.50 299.55,111.33 300.10,114.20 C300.65,117.07 301.95,125.70 302.60,130.00 C303.25,134.30 303.65,136.67 304.00,140.00 C304.35,143.33 304.23,146.67 304.70,150.00 C305.17,153.33 305.97,156.67 306.80,160.00 C307.63,163.33 308.87,167.50 309.70,170.00 C310.53,172.50 311.22,173.90 311.80,175.00 C312.38,176.10 312.67,176.23 313.20,176.60 C313.73,176.97 314.70,177.10 315.00,177.20 Z" fill="none" stroke="#c8163e" stroke-width="1.0" stroke-linejoin="round"/>
<clipPath id="cb2"><path d="M264.00,386.90 C264.25,386.75 265.03,387.15 265.50,386.00 C265.97,384.85 266.42,382.22 266.80,380.00 C267.18,377.78 267.42,375.72 267.80,372.70 C268.18,369.68 268.65,365.93 269.10,361.90 C269.55,357.87 270.03,352.82 270.50,348.50 C270.97,344.18 271.40,340.95 271.90,336.00 C272.40,331.05 273.00,324.87 273.50,318.80 C274.00,312.73 274.58,304.40 274.90,299.60 C275.22,294.80 275.15,293.77 275.40,290.00 C275.65,286.23 276.08,279.87 276.40,277.00 C276.72,274.13 276.95,273.27 277.30,272.80 C277.65,272.33 278.10,274.23 278.50,274.20 C278.90,274.17 279.32,272.38 279.70,272.60 C280.08,272.82 280.42,273.93 280.80,275.50 C281.18,277.07 281.70,279.58 282.00,282.00 C282.30,284.42 282.45,287.07 282.60,290.00 C282.75,292.93 282.73,294.80 282.90,299.60 C283.07,304.40 283.25,312.73 283.60,318.80 C283.95,324.87 284.50,331.05 285.00,336.00 C285.50,340.95 286.00,344.18 286.60,348.50 C287.20,352.82 287.98,357.87 288.60,361.90 C289.22,365.93 289.85,369.78 290.30,372.70 C290.75,375.62 291.02,377.38 291.30,379.40 C291.58,381.42 291.63,383.55 292.00,384.80 C292.37,386.05 293.25,386.55 293.50,386.90 Z"/></clipPath><clipPath id="cr2"><path d="M250.00,386.90 C250.67,386.80 252.72,386.65 254.00,386.30 C255.28,385.95 256.18,385.95 257.70,384.80 C259.22,383.65 261.30,381.42 263.10,379.40 C264.90,377.38 266.60,375.62 268.50,372.70 C270.40,369.78 273.12,365.93 274.50,361.90 C275.88,357.87 276.12,352.98 276.80,348.50 C277.48,344.02 278.03,338.33 278.60,335.00 C279.17,331.67 279.70,331.20 280.20,328.50 C280.70,325.80 281.12,322.02 281.60,318.80 C282.08,315.58 282.62,312.40 283.10,309.20 C283.58,306.00 284.15,301.72 284.50,299.60 C284.85,297.48 284.95,297.30 285.20,296.50 C285.45,295.70 285.68,294.85 286.00,294.80 C286.32,294.75 286.75,296.03 287.10,296.20 C287.45,296.37 287.73,295.23 288.10,295.80 C288.47,296.37 288.70,297.37 289.30,299.60 C289.90,301.83 290.97,306.00 291.70,309.20 C292.43,312.40 293.05,315.58 293.70,318.80 C294.35,322.02 295.12,325.80 295.60,328.50 C296.08,331.20 295.97,331.67 296.60,335.00 C297.23,338.33 298.37,344.02 299.40,348.50 C300.43,352.98 301.68,357.87 302.80,361.90 C303.92,365.93 305.10,369.78 306.10,372.70 C307.10,375.62 307.33,377.38 308.80,379.40 C310.27,381.42 313.20,383.63 314.90,384.80 C316.60,385.97 317.82,386.05 319.00,386.40 C320.18,386.75 321.50,386.82 322.00,386.90 Z"/></clipPath>
<path d="M264.00,386.90 C264.25,386.75 265.03,387.15 265.50,386.00 C265.97,384.85 266.42,382.22 266.80,380.00 C267.18,377.78 267.42,375.72 267.80,372.70 C268.18,369.68 268.65,365.93 269.10,361.90 C269.55,357.87 270.03,352.82 270.50,348.50 C270.97,344.18 271.40,340.95 271.90,336.00 C272.40,331.05 273.00,324.87 273.50,318.80 C274.00,312.73 274.58,304.40 274.90,299.60 C275.22,294.80 275.15,293.77 275.40,290.00 C275.65,286.23 276.08,279.87 276.40,277.00 C276.72,274.13 276.95,273.27 277.30,272.80 C277.65,272.33 278.10,274.23 278.50,274.20 C278.90,274.17 279.32,272.38 279.70,272.60 C280.08,272.82 280.42,273.93 280.80,275.50 C281.18,277.07 281.70,279.58 282.00,282.00 C282.30,284.42 282.45,287.07 282.60,290.00 C282.75,292.93 282.73,294.80 282.90,299.60 C283.07,304.40 283.25,312.73 283.60,318.80 C283.95,324.87 284.50,331.05 285.00,336.00 C285.50,340.95 286.00,344.18 286.60,348.50 C287.20,352.82 287.98,357.87 288.60,361.90 C289.22,365.93 289.85,369.78 290.30,372.70 C290.75,375.62 291.02,377.38 291.30,379.40 C291.58,381.42 291.63,383.55 292.00,384.80 C292.37,386.05 293.25,386.55 293.50,386.90 Z" fill="#8f9fcd"/>
<path d="M264.00,386.90 C264.25,386.75 265.03,387.15 265.50,386.00 C265.97,384.85 266.42,382.22 266.80,380.00 C267.18,377.78 267.42,375.72 267.80,372.70 C268.18,369.68 268.65,365.93 269.10,361.90 C269.55,357.87 270.03,352.82 270.50,348.50 C270.97,344.18 271.40,340.95 271.90,336.00 C272.40,331.05 273.00,324.87 273.50,318.80 C274.00,312.73 274.58,304.40 274.90,299.60 C275.22,294.80 275.15,293.77 275.40,290.00 C275.65,286.23 276.08,279.87 276.40,277.00 C276.72,274.13 276.95,273.27 277.30,272.80 C277.65,272.33 278.10,274.23 278.50,274.20 C278.90,274.17 279.32,272.38 279.70,272.60 C280.08,272.82 280.42,273.93 280.80,275.50 C281.18,277.07 281.70,279.58 282.00,282.00 C282.30,284.42 282.45,287.07 282.60,290.00 C282.75,292.93 282.73,294.80 282.90,299.60 C283.07,304.40 283.25,312.73 283.60,318.80 C283.95,324.87 284.50,331.05 285.00,336.00 C285.50,340.95 286.00,344.18 286.60,348.50 C287.20,352.82 287.98,357.87 288.60,361.90 C289.22,365.93 289.85,369.78 290.30,372.70 C290.75,375.62 291.02,377.38 291.30,379.40 C291.58,381.42 291.63,383.55 292.00,384.80 C292.37,386.05 293.25,386.55 293.50,386.90 Z" fill="none" stroke="#2c4a8a" stroke-width="1.0" stroke-linejoin="round"/>
<path d="M250.00,386.90 C250.67,386.80 252.72,386.65 254.00,386.30 C255.28,385.95 256.18,385.95 257.70,384.80 C259.22,383.65 261.30,381.42 263.10,379.40 C264.90,377.38 266.60,375.62 268.50,372.70 C270.40,369.78 273.12,365.93 274.50,361.90 C275.88,357.87 276.12,352.98 276.80,348.50 C277.48,344.02 278.03,338.33 278.60,335.00 C279.17,331.67 279.70,331.20 280.20,328.50 C280.70,325.80 281.12,322.02 281.60,318.80 C282.08,315.58 282.62,312.40 283.10,309.20 C283.58,306.00 284.15,301.72 284.50,299.60 C284.85,297.48 284.95,297.30 285.20,296.50 C285.45,295.70 285.68,294.85 286.00,294.80 C286.32,294.75 286.75,296.03 287.10,296.20 C287.45,296.37 287.73,295.23 288.10,295.80 C288.47,296.37 288.70,297.37 289.30,299.60 C289.90,301.83 290.97,306.00 291.70,309.20 C292.43,312.40 293.05,315.58 293.70,318.80 C294.35,322.02 295.12,325.80 295.60,328.50 C296.08,331.20 295.97,331.67 296.60,335.00 C297.23,338.33 298.37,344.02 299.40,348.50 C300.43,352.98 301.68,357.87 302.80,361.90 C303.92,365.93 305.10,369.78 306.10,372.70 C307.10,375.62 307.33,377.38 308.80,379.40 C310.27,381.42 313.20,383.63 314.90,384.80 C316.60,385.97 317.82,386.05 319.00,386.40 C320.18,386.75 321.50,386.82 322.00,386.90 Z" fill="#ea8a7a"/>
<path d="M250.00,386.90 C250.67,386.80 252.72,386.65 254.00,386.30 C255.28,385.95 256.18,385.95 257.70,384.80 C259.22,383.65 261.30,381.42 263.10,379.40 C264.90,377.38 266.60,375.62 268.50,372.70 C270.40,369.78 273.12,365.93 274.50,361.90 C275.88,357.87 276.12,352.98 276.80,348.50 C277.48,344.02 278.03,338.33 278.60,335.00 C279.17,331.67 279.70,331.20 280.20,328.50 C280.70,325.80 281.12,322.02 281.60,318.80 C282.08,315.58 282.62,312.40 283.10,309.20 C283.58,306.00 284.15,301.72 284.50,299.60 C284.85,297.48 284.95,297.30 285.20,296.50 C285.45,295.70 285.68,294.85 286.00,294.80 C286.32,294.75 286.75,296.03 287.10,296.20 C287.45,296.37 287.73,295.23 288.10,295.80 C288.47,296.37 288.70,297.37 289.30,299.60 C289.90,301.83 290.97,306.00 291.70,309.20 C292.43,312.40 293.05,315.58 293.70,318.80 C294.35,322.02 295.12,325.80 295.60,328.50 C296.08,331.20 295.97,331.67 296.60,335.00 C297.23,338.33 298.37,344.02 299.40,348.50 C300.43,352.98 301.68,357.87 302.80,361.90 C303.92,365.93 305.10,369.78 306.10,372.70 C307.10,375.62 307.33,377.38 308.80,379.40 C310.27,381.42 313.20,383.63 314.90,384.80 C316.60,385.97 317.82,386.05 319.00,386.40 C320.18,386.75 321.50,386.82 322.00,386.90 Z" fill="#935668" clip-path="url(#cb2)"/>
<path d="M264.00,386.90 C264.25,386.75 265.03,387.15 265.50,386.00 C265.97,384.85 266.42,382.22 266.80,380.00 C267.18,377.78 267.42,375.72 267.80,372.70 C268.18,369.68 268.65,365.93 269.10,361.90 C269.55,357.87 270.03,352.82 270.50,348.50 C270.97,344.18 271.40,340.95 271.90,336.00 C272.40,331.05 273.00,324.87 273.50,318.80 C274.00,312.73 274.58,304.40 274.90,299.60 C275.22,294.80 275.15,293.77 275.40,290.00 C275.65,286.23 276.08,279.87 276.40,277.00 C276.72,274.13 276.95,273.27 277.30,272.80 C277.65,272.33 278.10,274.23 278.50,274.20 C278.90,274.17 279.32,272.38 279.70,272.60 C280.08,272.82 280.42,273.93 280.80,275.50 C281.18,277.07 281.70,279.58 282.00,282.00 C282.30,284.42 282.45,287.07 282.60,290.00 C282.75,292.93 282.73,294.80 282.90,299.60 C283.07,304.40 283.25,312.73 283.60,318.80 C283.95,324.87 284.50,331.05 285.00,336.00 C285.50,340.95 286.00,344.18 286.60,348.50 C287.20,352.82 287.98,357.87 288.60,361.90 C289.22,365.93 289.85,369.78 290.30,372.70 C290.75,375.62 291.02,377.38 291.30,379.40 C291.58,381.42 291.63,383.55 292.00,384.80 C292.37,386.05 293.25,386.55 293.50,386.90 Z" fill="none" stroke="#6a2c48" stroke-width="1.0" stroke-linejoin="round" clip-path="url(#cr2)"/>
<path d="M250.00,386.90 C250.67,386.80 252.72,386.65 254.00,386.30 C255.28,385.95 256.18,385.95 257.70,384.80 C259.22,383.65 261.30,381.42 263.10,379.40 C264.90,377.38 266.60,375.62 268.50,372.70 C270.40,369.78 273.12,365.93 274.50,361.90 C275.88,357.87 276.12,352.98 276.80,348.50 C277.48,344.02 278.03,338.33 278.60,335.00 C279.17,331.67 279.70,331.20 280.20,328.50 C280.70,325.80 281.12,322.02 281.60,318.80 C282.08,315.58 282.62,312.40 283.10,309.20 C283.58,306.00 284.15,301.72 284.50,299.60 C284.85,297.48 284.95,297.30 285.20,296.50 C285.45,295.70 285.68,294.85 286.00,294.80 C286.32,294.75 286.75,296.03 287.10,296.20 C287.45,296.37 287.73,295.23 288.10,295.80 C288.47,296.37 288.70,297.37 289.30,299.60 C289.90,301.83 290.97,306.00 291.70,309.20 C292.43,312.40 293.05,315.58 293.70,318.80 C294.35,322.02 295.12,325.80 295.60,328.50 C296.08,331.20 295.97,331.67 296.60,335.00 C297.23,338.33 298.37,344.02 299.40,348.50 C300.43,352.98 301.68,357.87 302.80,361.90 C303.92,365.93 305.10,369.78 306.10,372.70 C307.10,375.62 307.33,377.38 308.80,379.40 C310.27,381.42 313.20,383.63 314.90,384.80 C316.60,385.97 317.82,386.05 319.00,386.40 C320.18,386.75 321.50,386.82 322.00,386.90 Z" fill="none" stroke="#c8163e" stroke-width="1.0" stroke-linejoin="round"/>
<line x1="217.40" y1="177.10" x2="341.90" y2="177.10" stroke="#231f20" stroke-width="1.3"/>
<line x1="218.60" y1="386.90" x2="342.70" y2="386.90" stroke="#231f20" stroke-width="1.3"/>
<line x1="395.50" y1="61.40" x2="395.50" y2="144.50" stroke="#231f20" stroke-width="1.3"/>
<line x1="392.50" y1="143.90" x2="395.50" y2="143.90" stroke="#231f20" stroke-width="1.0"/>
<text x="389.00" y="146.90" font-size="8.30" text-anchor="end" fill="#231f20" stroke="#231f20" stroke-width="0.22">0</text>
<line x1="392.50" y1="117.40" x2="395.50" y2="117.40" stroke="#231f20" stroke-width="1.0"/>
<text x="384.40" y="120.40" font-size="8.1" text-anchor="end" textLength="17.2" lengthAdjust="spacingAndGlyphs" fill="#231f20" stroke="#231f20" stroke-width="0.22">2×10</text>
<text x="384.60" y="118.30" font-size="6.8" textLength="4.0" lengthAdjust="spacingAndGlyphs" fill="#231f20" stroke="#231f20" stroke-width="0.14">3</text>
<line x1="392.50" y1="90.90" x2="395.50" y2="90.90" stroke="#231f20" stroke-width="1.0"/>
<text x="384.40" y="93.90" font-size="8.1" text-anchor="end" textLength="17.2" lengthAdjust="spacingAndGlyphs" fill="#231f20" stroke="#231f20" stroke-width="0.22">4×10</text>
<text x="384.60" y="91.80" font-size="6.8" textLength="4.0" lengthAdjust="spacingAndGlyphs" fill="#231f20" stroke="#231f20" stroke-width="0.14">3</text>
<line x1="392.50" y1="64.30" x2="395.50" y2="64.30" stroke="#231f20" stroke-width="1.0"/>
<text x="384.40" y="67.30" font-size="8.1" text-anchor="end" textLength="17.2" lengthAdjust="spacingAndGlyphs" fill="#231f20" stroke="#231f20" stroke-width="0.22">6×10</text>
<text x="384.60" y="65.20" font-size="6.8" textLength="4.0" lengthAdjust="spacingAndGlyphs" fill="#231f20" stroke="#231f20" stroke-width="0.14">3</text>
<line x1="394.90" y1="144.10" x2="512.90" y2="144.10" stroke="#231f20" stroke-width="1.3"/>
<rect x="413.10" y="81.60" width="33.20" height="62.00" fill="#c00022" />
<rect x="464.40" y="121.40" width="32.80" height="22.20" fill="#0c4c86" />
<line x1="429.50" y1="75.00" x2="429.50" y2="81.70" stroke="#231f20" stroke-width="1.1"/>
<line x1="420.50" y1="75.00" x2="438.50" y2="75.00" stroke="#231f20" stroke-width="1.2"/>
<line x1="429.50" y1="81.70" x2="429.50" y2="87.20" stroke="#74101f" stroke-width="1.1"/>
<line x1="420.50" y1="87.20" x2="438.50" y2="87.20" stroke="#74101f" stroke-width="1.2"/>
<line x1="480.80" y1="118.70" x2="480.80" y2="121.40" stroke="#231f20" stroke-width="1.1"/>
<line x1="471.90" y1="118.70" x2="489.70" y2="118.70" stroke="#231f20" stroke-width="1.2"/>
<line x1="480.80" y1="121.40" x2="480.80" y2="122.40" stroke="#0b2a4e" stroke-width="1.1"/>
<line x1="471.90" y1="122.40" x2="489.70" y2="122.40" stroke="#0b2a4e" stroke-width="1.2"/>
<ellipse cx="476.95" cy="114.50" rx="1.15" ry="1.2" fill="#231f20"/>
<ellipse cx="480.80" cy="114.50" rx="1.15" ry="1.2" fill="#231f20"/>
<ellipse cx="484.65" cy="114.50" rx="1.15" ry="1.2" fill="#231f20"/>
<line x1="429.70" y1="144.10" x2="429.70" y2="147.00" stroke="#231f20" stroke-width="1.0"/>
<line x1="480.80" y1="144.10" x2="480.80" y2="147.00" stroke="#231f20" stroke-width="1.0"/>
<text x="413.30" y="157.90" font-size="9.01" textLength="33.00" lengthAdjust="spacingAndGlyphs" fill="#231f20" stroke="#231f20" stroke-width="0.22">MPA vec</text>
<text x="467.40" y="157.90" font-size="9.01" textLength="26.60" lengthAdjust="spacingAndGlyphs" fill="#231f20" stroke="#231f20" stroke-width="0.22">EBNA2</text>
<line x1="412.20" y1="162.00" x2="499.70" y2="162.00" stroke="#333" stroke-width="1.3"/>
<text x="443.60" y="173.90" font-size="10.47" textLength="24.50" lengthAdjust="spacingAndGlyphs" fill="#231f20" stroke="#231f20" stroke-width="0.22">U2932</text>
<text transform="translate(360.90,120.00) rotate(-90)" x="0" y="0" font-size="9.59" textLength="35.50" lengthAdjust="spacingAndGlyphs" fill="#231f20" stroke="#231f20" stroke-width="0.22">MFI ICOSL</text>
<line x1="395.50" y1="270.90" x2="395.50" y2="353.70" stroke="#231f20" stroke-width="1.3"/>
<line x1="392.50" y1="353.20" x2="395.50" y2="353.20" stroke="#231f20" stroke-width="1.0"/>
<text x="389.00" y="356.20" font-size="8.30" text-anchor="end" fill="#231f20" stroke="#231f20" stroke-width="0.22">0</text>
<line x1="392.50" y1="337.24" x2="395.50" y2="337.24" stroke="#231f20" stroke-width="1.0"/>
<text x="384.40" y="340.24" font-size="8.1" text-anchor="end" textLength="17.2" lengthAdjust="spacingAndGlyphs" fill="#231f20" stroke="#231f20" stroke-width="0.22">1×10</text>
<text x="384.60" y="338.14" font-size="6.8" textLength="4.0" lengthAdjust="spacingAndGlyphs" fill="#231f20" stroke="#231f20" stroke-width="0.14">3</text>
<line x1="392.50" y1="321.28" x2="395.50" y2="321.28" stroke="#231f20" stroke-width="1.0"/>
<text x="384.40" y="324.28" font-size="8.1" text-anchor="end" textLength="17.2" lengthAdjust="spacingAndGlyphs" fill="#231f20" stroke="#231f20" stroke-width="0.22">2×10</text>
<text x="384.60" y="322.18" font-size="6.8" textLength="4.0" lengthAdjust="spacingAndGlyphs" fill="#231f20" stroke="#231f20" stroke-width="0.14">3</text>
<line x1="392.50" y1="305.32" x2="395.50" y2="305.32" stroke="#231f20" stroke-width="1.0"/>
<text x="384.40" y="308.32" font-size="8.1" text-anchor="end" textLength="17.2" lengthAdjust="spacingAndGlyphs" fill="#231f20" stroke="#231f20" stroke-width="0.22">3×10</text>
<text x="384.60" y="306.22" font-size="6.8" textLength="4.0" lengthAdjust="spacingAndGlyphs" fill="#231f20" stroke="#231f20" stroke-width="0.14">3</text>
<line x1="392.50" y1="289.36" x2="395.50" y2="289.36" stroke="#231f20" stroke-width="1.0"/>
<text x="384.40" y="292.36" font-size="8.1" text-anchor="end" textLength="17.2" lengthAdjust="spacingAndGlyphs" fill="#231f20" stroke="#231f20" stroke-width="0.22">4×10</text>
<text x="384.60" y="290.26" font-size="6.8" textLength="4.0" lengthAdjust="spacingAndGlyphs" fill="#231f20" stroke="#231f20" stroke-width="0.14">3</text>
<line x1="392.50" y1="273.40" x2="395.50" y2="273.40" stroke="#231f20" stroke-width="1.0"/>
<text x="384.40" y="276.40" font-size="8.1" text-anchor="end" textLength="17.2" lengthAdjust="spacingAndGlyphs" fill="#231f20" stroke="#231f20" stroke-width="0.22">5×10</text>
<text x="384.60" y="274.30" font-size="6.8" textLength="4.0" lengthAdjust="spacingAndGlyphs" fill="#231f20" stroke="#231f20" stroke-width="0.14">3</text>
<line x1="394.90" y1="353.20" x2="512.90" y2="353.20" stroke="#231f20" stroke-width="1.3"/>
<rect x="413.30" y="294.80" width="32.90" height="57.90" fill="#c00022" />
<rect x="463.70" y="330.30" width="33.60" height="22.40" fill="#0c4c86" />
<line x1="429.60" y1="285.90" x2="429.60" y2="294.80" stroke="#231f20" stroke-width="1.1"/>
<line x1="420.20" y1="285.90" x2="439.00" y2="285.90" stroke="#231f20" stroke-width="1.2"/>
<line x1="429.60" y1="294.80" x2="429.60" y2="301.50" stroke="#74101f" stroke-width="1.1"/>
<line x1="420.20" y1="301.50" x2="439.00" y2="301.50" stroke="#74101f" stroke-width="1.2"/>
<line x1="480.80" y1="326.10" x2="480.80" y2="330.30" stroke="#231f20" stroke-width="1.1"/>
<line x1="471.90" y1="326.10" x2="489.70" y2="326.10" stroke="#231f20" stroke-width="1.2"/>
<line x1="480.80" y1="330.30" x2="480.80" y2="333.40" stroke="#0b2a4e" stroke-width="1.1"/>
<line x1="471.90" y1="333.40" x2="489.70" y2="333.40" stroke="#0b2a4e" stroke-width="1.2"/>
<ellipse cx="478.77" cy="321.80" rx="1.15" ry="1.2" fill="#231f20"/>
<ellipse cx="482.62" cy="321.80" rx="1.15" ry="1.2" fill="#231f20"/>
<line x1="429.60" y1="353.20" x2="429.60" y2="356.10" stroke="#231f20" stroke-width="1.0"/>
<line x1="481.10" y1="353.20" x2="481.10" y2="356.10" stroke="#231f20" stroke-width="1.0"/>
<text x="366.2" y="367.5" font-size="8.6" textLength="41.0" lengthAdjust="spacingAndGlyphs" fill="#231f20" stroke="#231f20" stroke-width="0.22"><tspan font-family="Liberation Serif" font-style="italic">β</tspan>-estradiol</text>
<line x1="426.90" y1="365.00" x2="430.90" y2="365.00" stroke="#231f20" stroke-width="1.0"/>
<line x1="478.30" y1="364.70" x2="482.50" y2="364.70" stroke="#231f20" stroke-width="1.0"/>
<line x1="480.40" y1="362.60" x2="480.40" y2="366.80" stroke="#231f20" stroke-width="1.0"/>
<line x1="413.90" y1="369.80" x2="502.40" y2="369.80" stroke="#333" stroke-width="1.3"/>
<text x="442.60" y="381.20" font-size="9.88" textLength="26.70" lengthAdjust="spacingAndGlyphs" fill="#231f20" stroke="#231f20" stroke-width="0.22">BJABK3</text>
<text transform="translate(360.80,330.00) rotate(-90)" x="0" y="0" font-size="9.59" textLength="36.20" lengthAdjust="spacingAndGlyphs" fill="#231f20" stroke="#231f20" stroke-width="0.22">MFI ICOSL</text>
<line x1="95.90" y1="442.60" x2="95.90" y2="524.10" stroke="#231f20" stroke-width="1.35"/>
<line x1="92.90" y1="523.50" x2="95.90" y2="523.50" stroke="#231f20" stroke-width="1.0"/>
<text x="89.70" y="526.60" font-size="8.4" text-anchor="end" fill="#231f20" stroke="#231f20" stroke-width="0.22">0.0</text>
<line x1="92.90" y1="497.37" x2="95.90" y2="497.37" stroke="#231f20" stroke-width="1.0"/>
<text x="89.70" y="500.47" font-size="8.4" text-anchor="end" fill="#231f20" stroke="#231f20" stroke-width="0.22">0.5</text>
<line x1="92.90" y1="471.23" x2="95.90" y2="471.23" stroke="#231f20" stroke-width="1.0"/>
<text x="89.70" y="474.33" font-size="8.4" text-anchor="end" fill="#231f20" stroke="#231f20" stroke-width="0.22">1.0</text>
<line x1="92.90" y1="445.10" x2="95.90" y2="445.10" stroke="#231f20" stroke-width="1.0"/>
<text x="89.70" y="448.20" font-size="8.4" text-anchor="end" fill="#231f20" stroke="#231f20" stroke-width="0.22">1.5</text>
<line x1="95.30" y1="523.50" x2="213.75" y2="523.50" stroke="#231f20" stroke-width="1.3"/>
<rect x="113.10" y="471.60" width="33.00" height="51.40" fill="#c00022" />
<line x1="129.60" y1="466.00" x2="129.60" y2="471.60" stroke="#231f20" stroke-width="1.1"/>
<line x1="120.70" y1="466.00" x2="138.50" y2="466.00" stroke="#231f20" stroke-width="1.2"/>
<line x1="129.60" y1="471.60" x2="129.60" y2="475.10" stroke="#74101f" stroke-width="1.1"/>
<line x1="120.70" y1="475.10" x2="138.50" y2="475.10" stroke="#74101f" stroke-width="1.2"/>
<line x1="129.60" y1="523.50" x2="129.60" y2="526.30" stroke="#231f20" stroke-width="1.0"/>
<rect x="163.90" y="496.00" width="32.80" height="27.00" fill="#0c4c86" />
<line x1="180.30" y1="490.00" x2="180.30" y2="496.00" stroke="#231f20" stroke-width="1.1"/>
<line x1="171.30" y1="490.00" x2="189.30" y2="490.00" stroke="#231f20" stroke-width="1.2"/>
<line x1="180.30" y1="496.00" x2="180.30" y2="500.10" stroke="#0b2a4e" stroke-width="1.1"/>
<line x1="171.30" y1="500.10" x2="189.30" y2="500.10" stroke="#0b2a4e" stroke-width="1.2"/>
<ellipse cx="178.38" cy="485.70" rx="1.15" ry="1.2" fill="#231f20"/>
<ellipse cx="182.23" cy="485.70" rx="1.15" ry="1.2" fill="#231f20"/>
<line x1="180.30" y1="523.50" x2="180.30" y2="526.30" stroke="#231f20" stroke-width="1.0"/>
<text x="113.75" y="536.90" font-size="8.87" textLength="32.35" lengthAdjust="spacingAndGlyphs" fill="#231f20" stroke="#231f20" stroke-width="0.22">MPA vec</text>
<text x="167.30" y="536.90" font-size="8.87" textLength="26.40" lengthAdjust="spacingAndGlyphs" fill="#231f20" stroke="#231f20" stroke-width="0.22">EBNA2</text>
<line x1="112.50" y1="541.60" x2="200.00" y2="541.60" stroke="#231f20" stroke-width="1.2"/>
<text x="144.50" y="553.80" font-size="10.47" textLength="23.50" lengthAdjust="spacingAndGlyphs" fill="#231f20" stroke="#231f20" stroke-width="0.22">U2932</text>
<text transform="translate(47.60,496.90) rotate(-90)" x="0" y="0" font-size="8.72" textLength="28.10" lengthAdjust="spacingAndGlyphs" fill="#231f20" stroke="#231f20" stroke-width="0.22">RT-qPCR</text>
<text transform="translate(59.70,507.50) rotate(-90)" x="0" y="0" font-size="9.30" textLength="48.50" lengthAdjust="spacingAndGlyphs" fill="#231f20" stroke="#231f20" stroke-width="0.22">ICOSL/GAPDH</text>
<text transform="translate(72.00,504.10) rotate(-90)" x="0" y="0" font-size="10.17" textLength="40.70" lengthAdjust="spacingAndGlyphs" fill="#231f20" stroke="#231f20" stroke-width="0.22">fold change</text>
<line x1="298.90" y1="443.00" x2="298.90" y2="524.20" stroke="#231f20" stroke-width="1.35"/>
<line x1="295.90" y1="523.60" x2="298.90" y2="523.60" stroke="#231f20" stroke-width="1.0"/>
<text x="292.70" y="526.70" font-size="8.4" text-anchor="end" fill="#231f20" stroke="#231f20" stroke-width="0.22">0.0</text>
<line x1="295.90" y1="497.57" x2="298.90" y2="497.57" stroke="#231f20" stroke-width="1.0"/>
<text x="292.70" y="500.67" font-size="8.4" text-anchor="end" fill="#231f20" stroke="#231f20" stroke-width="0.22">0.5</text>
<line x1="295.90" y1="471.53" x2="298.90" y2="471.53" stroke="#231f20" stroke-width="1.0"/>
<text x="292.70" y="474.63" font-size="8.4" text-anchor="end" fill="#231f20" stroke="#231f20" stroke-width="0.22">1.0</text>
<line x1="295.90" y1="445.50" x2="298.90" y2="445.50" stroke="#231f20" stroke-width="1.0"/>
<text x="292.70" y="448.60" font-size="8.4" text-anchor="end" fill="#231f20" stroke="#231f20" stroke-width="0.22">1.5</text>
<line x1="298.30" y1="523.60" x2="416.50" y2="523.60" stroke="#231f20" stroke-width="1.3"/>
<rect x="316.70" y="473.20" width="33.20" height="49.90" fill="#c00022" />
<line x1="333.30" y1="467.10" x2="333.30" y2="473.20" stroke="#231f20" stroke-width="1.1"/>
<line x1="324.30" y1="467.10" x2="342.30" y2="467.10" stroke="#231f20" stroke-width="1.2"/>
<line x1="333.30" y1="473.20" x2="333.30" y2="478.10" stroke="#74101f" stroke-width="1.1"/>
<line x1="324.30" y1="478.10" x2="342.30" y2="478.10" stroke="#74101f" stroke-width="1.2"/>
<line x1="333.30" y1="523.60" x2="333.30" y2="526.40" stroke="#231f20" stroke-width="1.0"/>
<rect x="366.90" y="490.40" width="32.80" height="32.70" fill="#0c4c86" />
<line x1="383.30" y1="486.30" x2="383.30" y2="490.40" stroke="#231f20" stroke-width="1.1"/>
<line x1="374.40" y1="486.30" x2="392.20" y2="486.30" stroke="#231f20" stroke-width="1.2"/>
<line x1="383.30" y1="490.40" x2="383.30" y2="493.50" stroke="#0b2a4e" stroke-width="1.1"/>
<line x1="374.40" y1="493.50" x2="392.20" y2="493.50" stroke="#0b2a4e" stroke-width="1.2"/>
<ellipse cx="381.37" cy="482.00" rx="1.15" ry="1.2" fill="#231f20"/>
<ellipse cx="385.22" cy="482.00" rx="1.15" ry="1.2" fill="#231f20"/>
<line x1="383.30" y1="523.60" x2="383.30" y2="526.40" stroke="#231f20" stroke-width="1.0"/>
<text x="269.8" y="539.3" font-size="8.6" textLength="40.9" lengthAdjust="spacingAndGlyphs" fill="#231f20" stroke="#231f20" stroke-width="0.22"><tspan font-family="Liberation Serif" font-style="italic">β</tspan>-estradiol</text>
<line x1="331.40" y1="535.00" x2="335.00" y2="535.00" stroke="#231f20" stroke-width="1.0"/>
<line x1="381.20" y1="535.30" x2="385.40" y2="535.30" stroke="#231f20" stroke-width="1.0"/>
<line x1="383.30" y1="533.20" x2="383.30" y2="537.40" stroke="#231f20" stroke-width="1.0"/>
<line x1="315.00" y1="540.20" x2="401.50" y2="540.20" stroke="#231f20" stroke-width="1.2"/>
<text x="346.40" y="551.40" font-size="9.88" textLength="27.20" lengthAdjust="spacingAndGlyphs" fill="#231f20" stroke="#231f20" stroke-width="0.22">BJABK3</text>
<text transform="translate(250.70,496.90) rotate(-90)" x="0" y="0" font-size="8.72" textLength="28.10" lengthAdjust="spacingAndGlyphs" fill="#231f20" stroke="#231f20" stroke-width="0.22">RT-qPCR</text>
<text transform="translate(263.20,506.80) rotate(-90)" x="0" y="0" font-size="9.30" textLength="47.80" lengthAdjust="spacingAndGlyphs" fill="#231f20" stroke="#231f20" stroke-width="0.22">ICOSL/GAPDH</text>
<text transform="translate(275.00,503.80) rotate(-90)" x="0" y="0" font-size="10.17" textLength="40.40" lengthAdjust="spacingAndGlyphs" fill="#231f20" stroke="#231f20" stroke-width="0.22">fold change</text>
</svg>
</body></html>
